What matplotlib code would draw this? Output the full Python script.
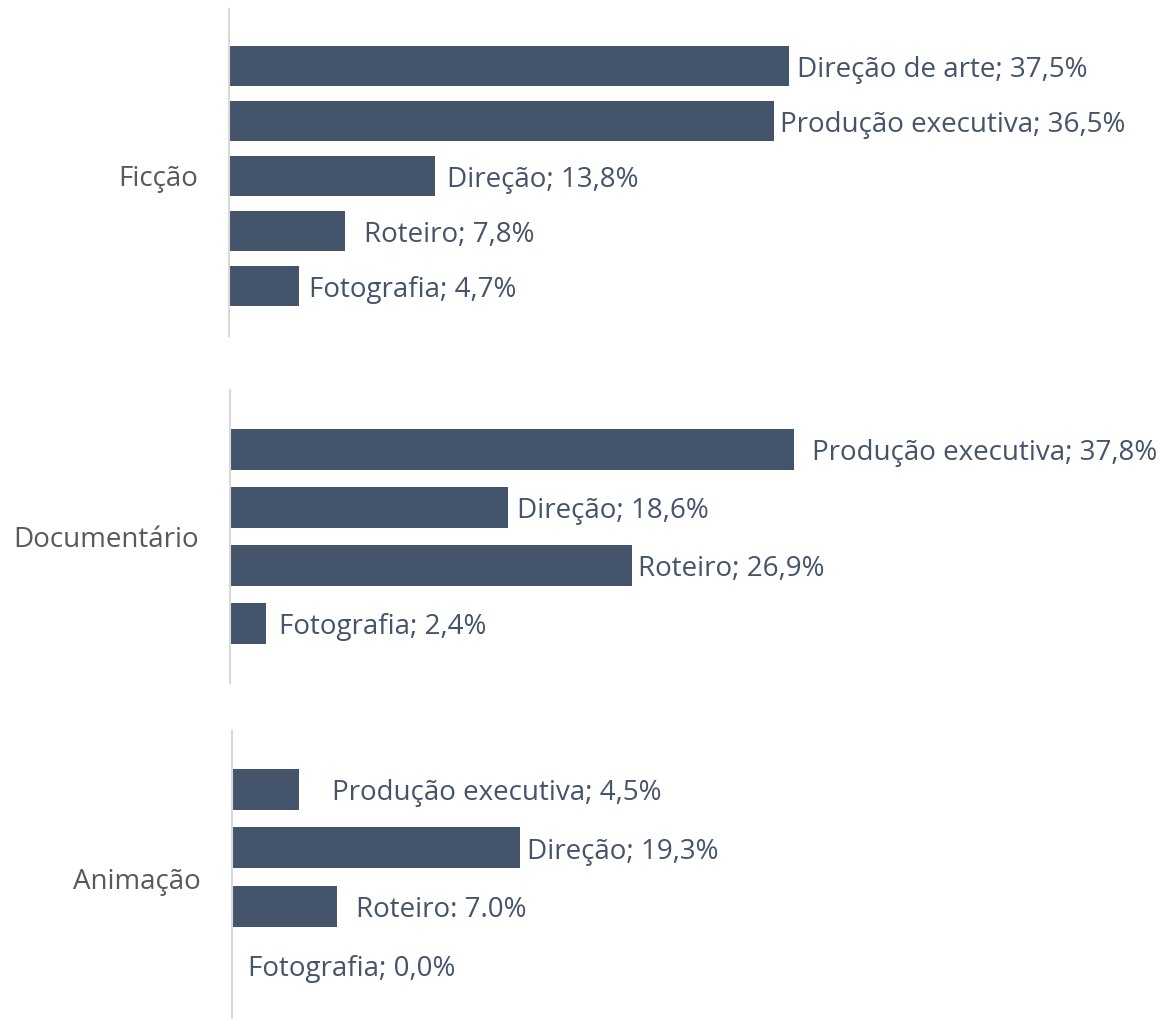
import matplotlib
matplotlib.use("Agg")
import matplotlib.pyplot as plt

plt.rcParams['font.family'] = ['Open Sans', 'DejaVu Sans']

# dados
grupos = ["Ficção", "Documentário", "Animação"]
val_ficcao = [37.5, 36.5, 13.8, 7.8, 4.7]
rot_ficcao = ["Direção de arte; 37,5%", "Produção executiva; 36,5%", "Direção; 13,8%",
              "Roteiro; 7,8%", "Fotografia; 4,7%"]
val_doc = [37.8, 18.6, 26.9, 2.4]
rot_doc = ["Produção executiva; 37,8%", "Direção; 18,6%", "Roteiro; 26,9%", "Fotografia; 2,4%"]
val_anim = [4.5, 19.3, 7.0, 0.0]
rot_anim = ["Produção executiva; 4,5%", "Direção; 19,3%", "Roteiro: 7.0%", "Fotografia; 0,0%"]

# afastamento dos rótulos (px)
off_ficcao = [8, 6, 12, 19, 10]
off_doc = [18, 9, 6, 13]
off_anim = [33, 7, 19, 16]

W, H = 1160, 1020
cor = "#44546A"
cinza = "#595959"
px_por_pct = 14.93
fs = 20

fig = plt.figure(figsize=(W / 100, H / 100), dpi=100)

# (x_eixo, topo, base, centro primeira barra, passo, altura barra, y do rótulo do grupo)
paineis = [
    (229, 10, 337, 67, 55, 40, 177),
    (230, 391, 684, 450, 58, 41, 538),
    (232, 732, 1020, 790, 58.7, 41, 880),
]
dados = [
    (val_ficcao, rot_ficcao, off_ficcao),
    (val_doc, rot_doc, off_doc),
    (val_anim, rot_anim, off_anim),
]

for g, (x0, topo, base, c0, passo, alt, ylab), (vals, rots, offs) in zip(grupos, paineis, dados):
    largura = 50 * px_por_pct
    ax = fig.add_axes([x0 / W, 1 - base / H, largura / W, (base - topo) / H])
    ys = list(range(len(vals)))
    ax.barh(ys, vals, height=alt / passo, color=cor)
    ax.set_xlim(0, 50)
    ax.set_ylim((base - c0) / passo, -(c0 - topo) / passo)
    for y, v, r, o in zip(ys, vals, rots, offs):
        ax.annotate(r, (v, y), xytext=(o * 0.72, -2.2), textcoords="offset points",
                    va="center", ha="left", color=cor, fontsize=fs, annotation_clip=False)
    for s in ["top", "right", "bottom"]:
        ax.spines[s].set_visible(False)
    ax.spines["left"].set_color("#D9D9D9")
    ax.spines["left"].set_linewidth(1.5)
    ax.set_xticks([])
    ax.set_yticks([])
    fig.text((x0 - 31) / W, 1 - (ylab + 2) / H, g, ha="right", va="center", color=cinza, fontsize=fs)

fig.savefig("out.png", dpi=100)
